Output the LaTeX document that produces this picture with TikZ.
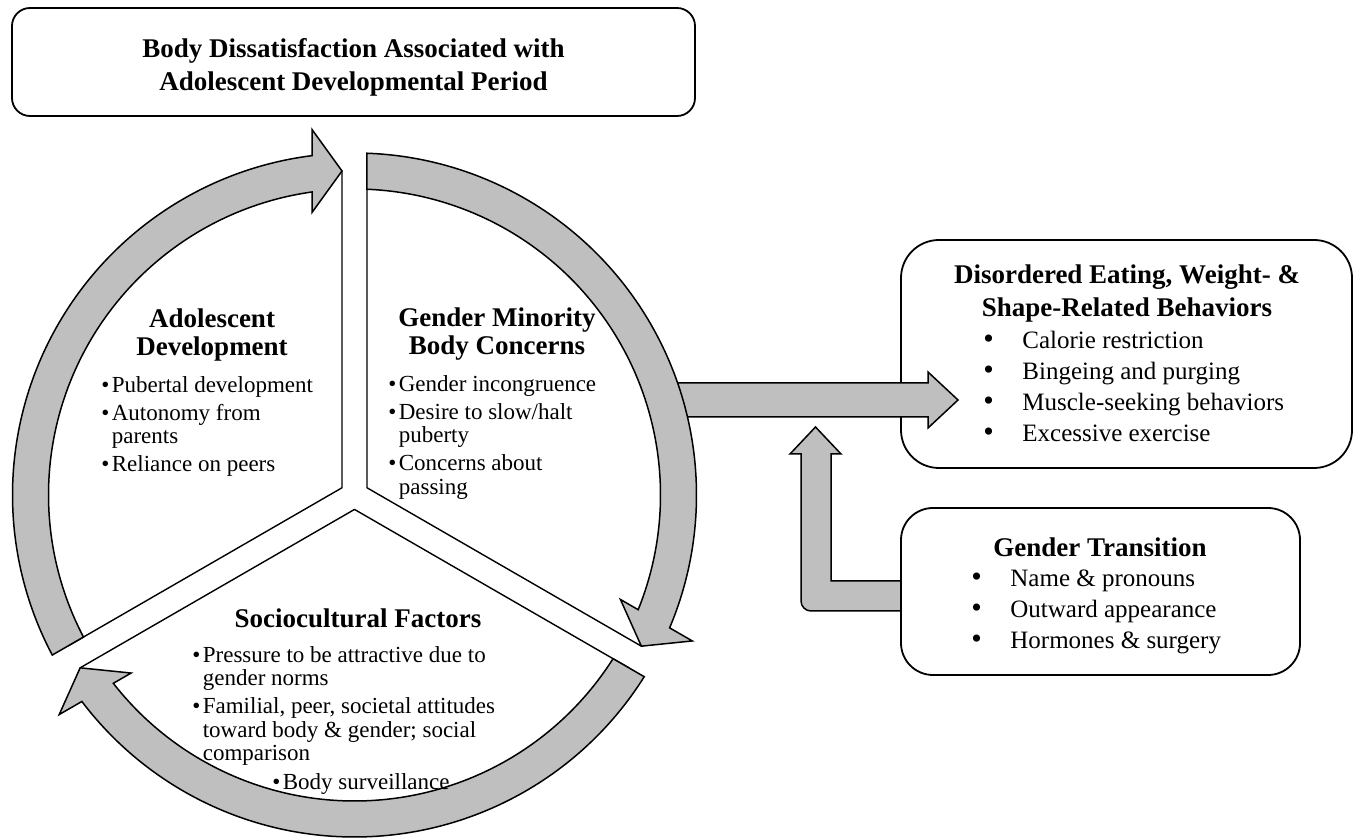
\documentclass[tikz,border=0pt]{standalone}
\usepackage{fontspec}
\setmainfont{Liberation Serif}
\usetikzlibrary{calc,fit}
\definecolor{cycgrau}{HTML}{BFBFBF}
\newcommand{\cyctitle}{\fontsize{13.5}{14}\selectfont\bfseries}
\newcommand{\cycbody}{\fontsize{11.5}{11.75}\selectfont}
\newcommand{\boxtitle}{\fontsize{13.5}{16.5}\selectfont\bfseries}
\newcommand{\boxbody}{\fontsize{12.5}{15.5}\selectfont}
\newcommand{\bul}{\textbullet\hspace{1.2pt}}
\newcommand{\bulgap}{\phantom{\textbullet}\hspace{1.2pt}}
\newcommand{\tabbul}{\makebox[19.5pt][l]{\scalebox{1.2}{\textbullet}}}
\newcommand{\cycRo}{342}
\newcommand{\cycRi}{306}
\newcommand{\cycRm}{324}
\newcommand{\cycgap}{12.5}
\newcommand{\cychl}{30}
\newcommand{\cychw}{41.5}
\newcommand{\cycseg}[2]{%
  \draw[segment] ($(O)+({(#1+#2)/2}:{\cycgap/sin(60)})$)
    -- ($(O)+({#1+asin(\cycgap/\cycRm)}:\cycRm)$)
    arc[start angle={#1+asin(\cycgap/\cycRm)}, end angle={#2-asin(\cycgap/\cycRm)}, radius=\cycRm]
    -- cycle;}
\newcommand{\cycarrow}[2]{%
  \draw[blockarrow] ($(O)+({#1-asin(\cycgap/\cycRo)}:\cycRo)$)
    arc[start angle={#1-asin(\cycgap/\cycRo)}, end angle={#2+asin((\cycgap+\cychl)/\cycRo)}, radius=\cycRo]
    -- ($(O)+(#2:{\cycRm+\cychw})+({#2+90}:{\cycgap+\cychl})$)
    -- ($(O)+(#2:\cycRm)+({#2+90}:\cycgap)$)
    -- ($(O)+(#2:{\cycRm-\cychw})+({#2+90}:{\cycgap+\cychl})$)
    -- ($(O)+({#2+asin((\cycgap+\cychl)/\cycRi)}:\cycRi)$)
    arc[start angle={#2+asin((\cycgap+\cychl)/\cycRi)}, end angle={#1-asin(\cycgap/\cycRi)}, radius=\cycRi]
    -- cycle;}
\tikzset{
  segment/.style={fill=white,draw=black,line width=0.7pt,line join=round},
  blockarrow/.style={fill=cycgrau,draw=black,line width=0.75pt,line join=miter},
  roundbox/.style={draw=black,fill=white,line width=0.9pt,rounded corners=#1,inner sep=0},
  roundbox/.default=9pt,
  listtext/.style={anchor=north west,align=left,inner sep=0},
}
\begin{document}
\begin{tikzpicture}[x=0.5pt,y=0.5pt]
\useasboundingbox (0,0) rectangle (1360,840);
\coordinate (O) at (354.5,345);
\node[roundbox=19pt, fit={(901,372) (1352,600)}] (debox) {};
\draw[blockarrow] (670,423) -- (928,423) -- (928,412) -- (958,440) -- (928,468) -- (928,457) -- (670,457) -- cycle;
\draw[blockarrow] (903,229) -- (811,229) arc[start angle=270,end angle=180,radius=10] -- (801,386) -- (790,386)
  -- (815.5,413) -- (841,386) -- (831,386) -- (831,259) -- (903,259) -- cycle;
\node[roundbox=16pt, fit={(901,165) (1300,332)}] (gtbox) {};
\cycseg{90}{210}
\cycseg{-30}{90}
\cycseg{210}{330}
\cycarrow{210}{90}
\cycarrow{90}{-30}
\cycarrow{330}{210}
\node[roundbox=9pt, fit={(12,724) (695,832)}] (topbox) {};
\node[align=center,font=\boxtitle] (toptext) at ($(topbox.center)+(0,-5)$) {Body Dissatisfaction Associated with\\Adolescent Developmental Period};
\node[align=center,font=\boxtitle] (detitle) at (1127,546.5) {Disordered Eating, Weight- \&\\Shape-Related Behaviors};
\node[listtext,font=\boxbody] (delist) at (983,509) {\tabbul Calorie restriction\\ \tabbul Bingeing and purging\\ \tabbul Muscle-seeking behaviors\\ \tabbul Excessive exercise};
\node[font=\boxtitle] (gttitle) at (1100,293) {Gender Transition};
\node[listtext,font=\boxbody] (gtlist) at (971,271) {\tabbul Name \& pronouns\\ \tabbul Outward appearance\\ \tabbul Hormones \& surgery};
\node[align=center,font=\cyctitle] (adtitle) at (212,505) {Adolescent\\Development};
\node[listtext,font=\cycbody] (adlist) at (101,464) {\bul Pubertal development\\[2.25pt] \bul Autonomy from\\ \bulgap parents\\[2.25pt] \bul Reliance on peers};
\node[align=center,font=\cyctitle] (gmtitle) at (497,505.5) {Gender Minority\\Body Concerns};
\node[listtext,font=\cycbody] (gmlist) at (388,465) {\bul Gender incongruence\\[2.25pt] \bul Desire to slow/halt\\ \bulgap puberty\\[2.25pt] \bul Concerns about\\ \bulgap passing};
\node[font=\cyctitle] (sctitle) at (358,222) {Sociocultural Factors};
\node[listtext,font=\cycbody] (sclist) at (192,194) {\bul Pressure to be attractive due to\\ \bulgap gender norms\\[2.25pt] \bul Familial, peer, societal attitudes\\ \bulgap toward body \& gender; social\\ \bulgap comparison};
\node[listtext,font=\cycbody] (scbody) at (272,67) {\bul Body surveillance};
\end{tikzpicture}
\end{document}
